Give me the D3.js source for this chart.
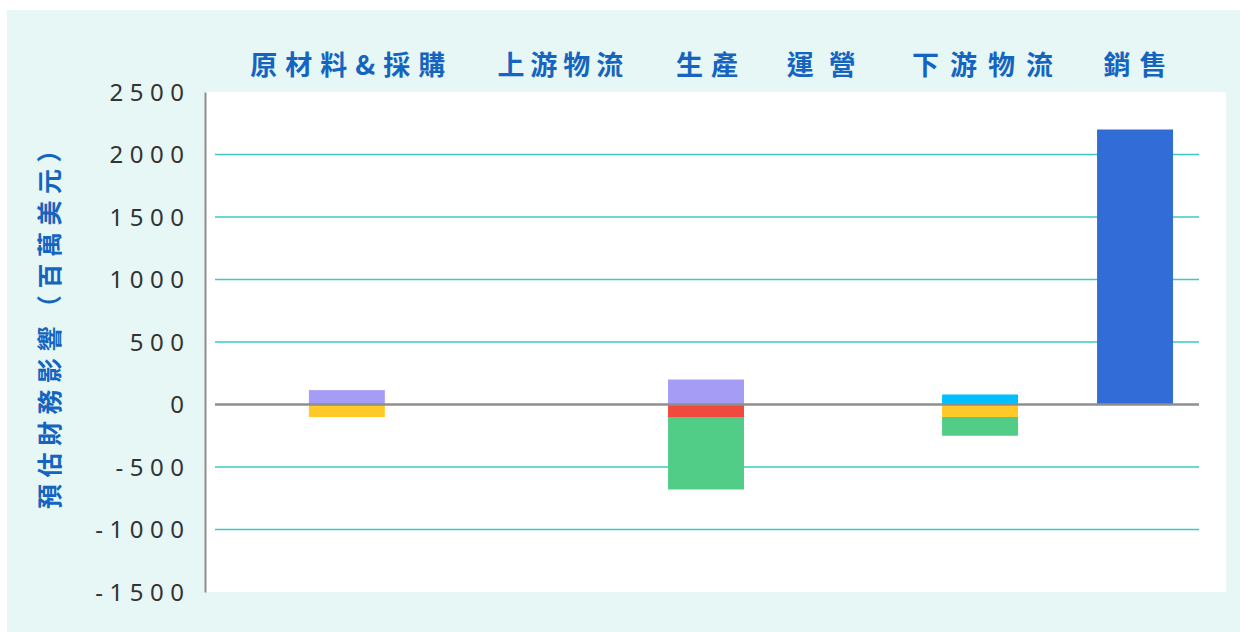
<!DOCTYPE html>
<html>
<head>
<meta charset="utf-8">
<script src="https://cdn.jsdelivr.net/npm/d3@7"></script>
<style>
  html, body { margin: 0; padding: 0; background: #ffffff; }
  svg { display: block; }
</style>
</head>
<body>
<svg id="chart" width="1240" height="632"></svg>
<script>
// Value-chain stages shown across the top
const categories = ["原材料&採購", "上游物流", "生產", "運營", "下游物流", "銷售"];

// Estimated financial impact per stage, in millions of USD
const seriesKeys = ["轉型風險", "市場風險", "政策風險", "實體風險", "能源機會", "產品機會"];
const transitionRisk = [115, 0, 200, 0, 0, 0];
const marketRisk     = [-100, 0, 0, 0, -100, 0];
const policyRisk     = [0, 0, -100, 0, 0, 0];
const physicalRisk   = [0, 0, -580, 0, -150, 0];
const energyOpp      = [0, 0, 0, 0, 80, 0];
const productOpp     = [0, 0, 0, 0, 0, 2200];

const yTicks = [-1500, -1000, -500, 0, 500, 1000, 1500, 2000, 2500];
const yTitle = "預估財務影響（百萬美元）";

// Layout: horizontal placement of each stage along the plot (0..1),
// and the character spacing used for each stage heading
const stagePos = [0.134, 0.35, 0.499, 0.617, 0.7775, 0.935];
const labelPos = [0.135, 0.351, 0.5, 0.616, 0.78, 0.935];
const labelSpacing = [8, 6, 8, 15, 11, 9];
const barFrac = 0.0772;
const colors = ["#a59cf6", "#ffca28", "#f0493d", "#52cd88", "#00bfff", "#316cd7"];

const seriesValues = [transitionRisk, marketRisk, policyRisk, physicalRisk, energyOpp, productOpp];
const table = categories.map((c, i) => {
  const row = { category: c, index: i };
  seriesKeys.forEach((k, j) => { row[k] = seriesValues[j][i]; });
  return row;
});

const svg = d3.select("#chart");

// Panel and plot backgrounds
svg.append("rect").attr("x", 7).attr("y", 10).attr("width", 1233).attr("height", 622).attr("fill", "#e6f7f6");
svg.append("rect").attr("x", 205).attr("y", 92).attr("width", 1021).attr("height", 500).attr("fill", "#ffffff");

const x = d3.scaleLinear().domain([0, 1]).range([215, 1199]);
const y = d3.scaleLinear().domain([-1500, 2500]).range([592, 92]);

// Gridlines
svg.append("g")
  .selectAll("line")
  .data(yTicks.filter(t => t !== 0 && t !== 2500 && t !== -1500))
  .join("line")
  .attr("x1", x(0)).attr("x2", x(1))
  .attr("y1", d => y(d)).attr("y2", d => y(d))
  .attr("stroke", "#3ec9c1").attr("stroke-width", 1.3);

// Stacked bars (positive above zero, negative below)
const stacked = d3.stack().keys(seriesKeys).offset(d3.stackOffsetDiverging)(table);
const bw = x(barFrac) - x(0);
svg.append("g")
  .selectAll("g")
  .data(stacked)
  .join("g")
  .attr("fill", (d, i) => colors[i])
  .selectAll("rect")
  .data(d => d.filter(p => p[1] - p[0] !== 0))
  .join("rect")
  .attr("x", d => x(stagePos[d.data.index]) - bw / 2)
  .attr("width", bw)
  .attr("y", d => y(Math.max(d[0], d[1])))
  .attr("height", d => Math.abs(y(d[0]) - y(d[1])));

// Zero line
svg.append("line")
  .attr("x1", x(0)).attr("x2", x(1))
  .attr("y1", y(0)).attr("y2", y(0))
  .attr("stroke", "#8e8e8e").attr("stroke-width", 2.5);

// Y axis
const tickSpacing = 6.5;
const yAxis = d3.axisLeft(y).tickValues(yTicks).tickSize(0).tickPadding(14.5)
  .tickFormat(d => String(d));
const ya = svg.append("g").attr("transform", "translate(205,0)").call(yAxis);
ya.select(".domain").attr("stroke", "#8e8e8e").attr("stroke-width", 2);
ya.selectAll("text")
  .attr("font-family", "'Noto Sans', sans-serif")
  .attr("font-size", 24)
  .attr("fill", "#333333")
  .attr("letter-spacing", tickSpacing + "px")
  .attr("dy", "0.35em");

// Stage headings along the top
svg.append("g")
  .selectAll("text")
  .data(categories)
  .join("text")
  .attr("x", (d, i) => x(labelPos[i]) + labelSpacing[i] / 2)
  .attr("y", 75)
  .attr("text-anchor", "middle")
  .attr("font-family", "'Noto Sans CJK TC', sans-serif")
  .attr("font-weight", "bold")
  .attr("font-size", 27)
  .attr("letter-spacing", (d, i) => labelSpacing[i] + "px")
  .attr("fill", "#1565c0")
  .text(d => d);

// Y axis title
svg.append("text")
  .attr("transform", "translate(59,320) rotate(-90)")
  .attr("text-anchor", "middle")
  .attr("font-family", "'Noto Sans CJK TC', sans-serif")
  .attr("font-weight", "bold")
  .attr("font-size", 25)
  .attr("letter-spacing", "6.5px")
  .attr("fill", "#1565c0")
  .text(yTitle);
</script>
</body>
</html>
